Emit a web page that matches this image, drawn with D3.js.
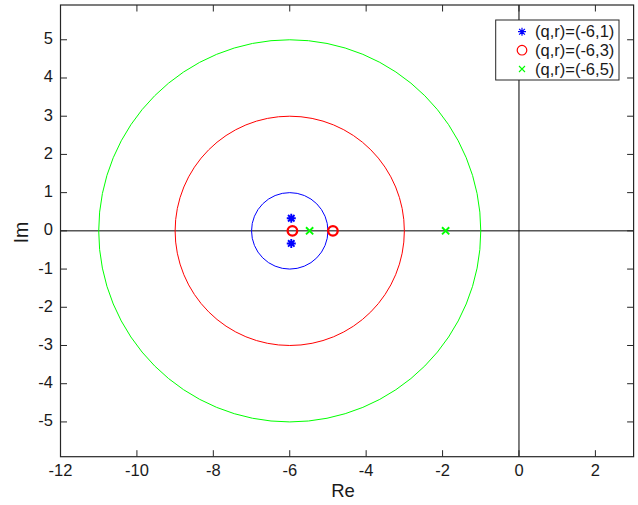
<!DOCTYPE html>
<html>
<head>
<meta charset="utf-8">
<script src="https://cdn.jsdelivr.net/npm/d3@7"></script>
<style>
  body { margin: 0; background: #fff; }
  svg { display: block; font-family: "Liberation Sans", Arial, sans-serif; }
</style>
</head>
<body>
<svg id="chart" width="638" height="505"></svg>
<script>
// ---- data ----
const seriesNames = ["(q,r)=(-6,1)", "(q,r)=(-6,3)", "(q,r)=(-6,5)"];
const seriesColors = ["#0000ff", "#ff0000", "#00ff00"];
const seriesMarkers = ["star", "circle", "cross"];
const circleCenterRe = [-6, -6, -6];
const circleRadius = [1, 3, 5];
// roots (Re, Im) per series
const pointsRe = [[-5.96, -5.96], [-5.93, -4.87], [-5.48, -1.92]];
const pointsIm = [[0.33, -0.33], [0, 0], [0, 0]];
const xTicks = [-12, -10, -8, -6, -4, -2, 0, 2];
const yTicks = [-5, -4, -3, -2, -1, 0, 1, 2, 3, 4, 5];
const xDomain = [-12, 3];
const yDomain = [-5.91, 5.91];

// ---- layout ----
const svg = d3.select("#chart");
const L = 60.5, R = 633.6, T = 5, B = 456.7;
const x = d3.scaleLinear().domain(xDomain).range([L, R]);
const y = d3.scaleLinear().domain(yDomain).range([B, T]);
const axisColor = "#262626";
const tickLen = 6.5;

const plot = svg.append("g");
svg.append("clipPath").attr("id", "clip")
  .append("rect").attr("x", L).attr("y", T).attr("width", R - L).attr("height", B - T);
const inner = plot.append("g").attr("clip-path", "url(#clip)");

// zero lines
inner.append("line").attr("x1", L).attr("x2", R).attr("y1", y(0)).attr("y2", y(0))
  .attr("stroke", "#000").attr("stroke-width", 1);
inner.append("line").attr("x1", x(0)).attr("x2", x(0)).attr("y1", T).attr("y2", B)
  .attr("stroke", "#000").attr("stroke-width", 1);

// circles
circleRadius.forEach((r, i) => {
  inner.append("ellipse")
    .attr("cx", x(circleCenterRe[i])).attr("cy", y(0))
    .attr("rx", x(circleCenterRe[i] + r) - x(circleCenterRe[i]))
    .attr("ry", y(0) - y(r))
    .attr("fill", "none").attr("stroke", seriesColors[i]).attr("stroke-width", 1);
});

function drawMarker(g, type, cx, cy, color, big) {
  if (type === "star") {
    const s = big ? 4.5 : 4;
    const d = s * 0.72;
    const p = `M${cx - s},${cy}L${cx + s},${cy}M${cx},${cy - s}L${cx},${cy + s}` +
      `M${cx - d},${cy - d}L${cx + d},${cy + d}M${cx - d},${cy + d}L${cx + d},${cy - d}`;
    g.append("path").attr("d", p).attr("stroke", color).attr("stroke-width", big ? 1.9 : 1.2).attr("fill", "none");
  } else if (type === "circle") {
    g.append("circle").attr("cx", cx).attr("cy", cy).attr("r", big ? 4.8 : 4.8)
      .attr("fill", "none").attr("stroke", color).attr("stroke-width", big ? 2.3 : 1.2);
  } else {
    const s = big ? 3.6 : 3;
    g.append("path").attr("d", `M${cx - s},${cy - s}L${cx + s},${cy + s}M${cx - s},${cy + s}L${cx + s},${cy - s}`)
      .attr("stroke", color).attr("stroke-width", big ? 1.9 : 1.1).attr("fill", "none");
  }
}

// markers
pointsRe.forEach((arr, i) => {
  arr.forEach((re, j) => {
    drawMarker(inner, seriesMarkers[i], x(re), y(pointsIm[i][j]), seriesColors[i], true);
  });
});

// axes box
const axG = svg.append("g");
axG.append("rect").attr("x", L).attr("y", T).attr("width", R - L).attr("height", B - T)
  .attr("fill", "none").attr("stroke", axisColor).attr("stroke-width", 1.2);

// ticks
xTicks.forEach(t => {
  axG.append("line").attr("x1", x(t)).attr("x2", x(t)).attr("y1", B).attr("y2", B - tickLen).attr("stroke", axisColor);
  axG.append("line").attr("x1", x(t)).attr("x2", x(t)).attr("y1", T).attr("y2", T + tickLen).attr("stroke", axisColor);
  axG.append("text").attr("x", x(t)).attr("y", 475.5).attr("text-anchor", "middle")
    .attr("font-size", 16.5).attr("fill", "#1a1a1a").text(t);
});
yTicks.forEach(t => {
  axG.append("line").attr("x1", L).attr("x2", L + tickLen).attr("y1", y(t)).attr("y2", y(t)).attr("stroke", axisColor);
  axG.append("line").attr("x1", R).attr("x2", R - tickLen).attr("y1", y(t)).attr("y2", y(t)).attr("stroke", axisColor);
  axG.append("text").attr("x", 53).attr("y", y(t) + 4.5).attr("text-anchor", "end")
    .attr("font-size", 16.5).attr("fill", "#1a1a1a").text(t);
});

// axis labels
svg.append("text").attr("x", 343).attr("y", 496.5).attr("text-anchor", "middle")
  .attr("font-size", 18.5).attr("fill", "#1a1a1a").text("Re");
svg.append("text").attr("transform", `translate(27.5,232.5) rotate(-90)`).attr("text-anchor", "middle")
  .attr("font-size", 19.5).attr("fill", "#1a1a1a").text("Im");

// legend
const lg = svg.append("g");
lg.append("rect").attr("x", 495.7).attr("y", 20).attr("width", 123.3).attr("height", 60)
  .attr("fill", "#fff").attr("stroke", axisColor).attr("stroke-width", 1);
const legendY = [31.7, 50.2, 69];
seriesNames.forEach((n, i) => {
  drawMarker(lg, seriesMarkers[i], 522, legendY[i], seriesColors[i], false);
  lg.append("text").attr("x", 535).attr("y", legendY[i] + 5.7).attr("font-size", 16.5)
    .attr("fill", "#1a1a1a").text(n);
});
</script>
</body>
</html>
